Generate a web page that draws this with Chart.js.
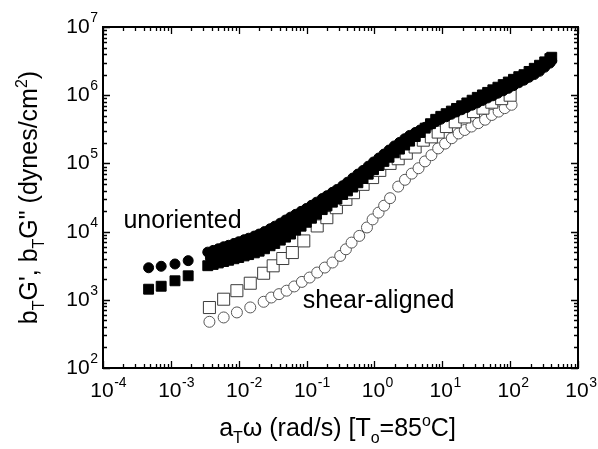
<!DOCTYPE html>
<html>
<head>
<meta charset="utf-8">
<script src="https://cdn.jsdelivr.net/npm/chart.js@4.4.1/dist/chart.umd.min.js"></script>
<style>
  html, body { margin: 0; padding: 0; background: #fff; }
  #wrap { width: 598px; height: 449px; position: relative; }
</style>
</head>
<body>
<div id="wrap"><canvas id="c"></canvas></div>
<script>
// ---- data (x = a_T*omega in rad/s, y = dynes/cm^2)
// unoriented, lowest temperature run (isolated points on the left)
const unorientedLowX   = [4.7e-4, 7.2e-4, 1.15e-3, 1.8e-3];
const unorientedLowGpp = [2950, 3100, 3350, 3750];
const unorientedLowGp  = [1430, 1580, 1900, 2250];

// unoriented, dense superposed runs (solid black band)
const unorientedX = [3.5e-3, 4.2e-3, 5.0e-3, 6.0e-3, 7.1e-3, 8.5e-3, 0.010, 0.012, 0.014, 0.017,
  0.020, 0.024, 0.029, 0.034, 0.041, 0.049, 0.058, 0.069, 0.083, 0.099,
  0.118, 0.14, 0.17, 0.20, 0.24, 0.28, 0.34, 0.40, 0.48, 0.57,
  0.68, 0.81, 0.97, 1.16, 1.38, 1.64, 1.96, 2.34, 2.79, 3.3,
  4.0, 4.7, 5.6, 6.7, 8.0, 9.5, 11.4, 13.6, 16.2, 19.3,
  23, 27.5, 32.8, 39, 46.6, 55.6, 66, 79, 94, 112,
  134, 160, 190, 227, 271, 323, 385, 410];
const unorientedGpp = [5000, 5300, 5600, 6000, 6300, 6700, 7100, 7600, 8000, 8600,
  9200, 1.0e4, 1.1e4, 1.2e4, 1.33e4, 1.48e4, 1.63e4, 1.79e4, 1.98e4, 2.18e4,
  2.43e4, 2.7e4, 3.05e4, 3.36e4, 3.76e4, 4.14e4, 4.7e4, 5.3e4, 6.1e4, 6.97e4,
  7.9e4, 9.1e4, 1.05e5, 1.2e5, 1.37e5, 1.57e5, 1.8e5, 2.03e5, 2.3e5, 2.57e5,
  2.84e5, 3.09e5, 3.39e5, 3.72e5, 4.08e5, 4.44e5, 4.83e5, 5.25e5, 5.68e5, 6.12e5,
  6.6e5, 7.14e5, 7.7e5, 8.36e5, 9.1e5, 9.8e5, 1.07e6, 1.16e6, 1.26e6, 1.38e6,
  1.52e6, 1.66e6, 1.83e6, 2.01e6, 2.24e6, 2.57e6, 2.95e6, 3.2e6];
const unorientedGp = [3160, 3300, 3470, 3640, 3800, 4000, 4170, 4400, 4600, 4880,
  5160, 5600, 6200, 6700, 7500, 8300, 9200, 1.05e4, 1.2e4, 1.37e4,
  1.57e4, 1.8e4, 2.1e4, 2.38e4, 2.7e4, 3.0e4, 3.5e4, 3.95e4, 4.5e4, 5.2e4,
  6.0e4, 6.95e4, 8.1e4, 9.3e4, 1.07e5, 1.23e5, 1.43e5, 1.62e5, 1.86e5, 2.12e5,
  2.48e5, 2.84e5, 3.29e5, 3.82e5, 4.43e5, 4.9e5, 5.36e5, 5.85e5, 6.4e5, 7.0e5,
  7.7e5, 8.45e5, 9.3e5, 1.01e6, 1.1e6, 1.2e6, 1.31e6, 1.43e6, 1.56e6, 1.71e6,
  1.87e6, 2.0e6, 2.23e6, 2.48e6, 2.75e6, 3.08e6, 3.44e6, 3.6e6];
// second unoriented run, sitting inside the band
const unorientedRun2X = [3.83e-3, 4.58e-3, 5.48e-3, 6.53e-3, 7.77e-3, 9.2e-3, 0.011, 0.013, 0.0154, 0.0184,
  0.0219, 0.0264, 0.0314, 0.0373, 0.0448, 0.0533, 0.0633, 0.0757, 0.0906, 0.108,
  0.1285, 0.154, 0.184, 0.219, 0.259, 0.309, 0.369, 0.438, 0.522, 0.622];
const unorientedRun2 = [4070, 4300, 4550, 4790, 5000, 5300, 5600, 5930, 6270, 6670,
  7190, 7870, 8600, 9480, 1.05e4, 1.16e4, 1.29e4, 1.46e4, 1.63e4, 1.84e4,
  2.08e4, 2.37e4, 2.67e4, 3.0e4, 3.36e4, 3.79e4, 4.31e4, 4.91e4, 5.62e4, 6.46e4];

// shear-aligned (open symbols)
const alignedGpX = [3.7e-3, 6.0e-3, 9.4e-3, 0.0148, 0.0233, 0.0322, 0.0446, 0.0617, 0.091, 0.1435,
  0.199, 0.275, 0.38, 0.492, 0.681, 0.94, 1.2, 1.7, 2.24, 2.95,
  3.98, 5.25, 6.9, 8.7, 11.5, 15.5, 21.4, 28.8, 39.8, 53.7, 75, 100];
const alignedGp = [770, 1020, 1360, 1750, 2450, 3150, 4030, 4930, 7300, 1.21e4,
  1.6e4, 2.24e4, 2.97e4, 3.72e4, 4.93e4, 6.2e4, 7.9e4, 1.0e5, 1.17e5, 1.41e5,
  1.74e5, 2.19e5, 2.45e5, 2.88e5, 3.47e5, 4.07e5, 4.8e5, 5.75e5, 6.46e5, 7.9e5, 8.9e5, 1.0e6];
const alignedGppX = [3.7e-3, 6.0e-3, 9.4e-3, 0.0148, 0.0233, 0.0302, 0.0392, 0.0508, 0.0658, 0.0853,
  0.111, 0.1435, 0.186, 0.241, 0.313, 0.38, 0.461, 0.598, 0.776, 0.94,
  1.15, 1.39, 1.7, 2.24, 2.82, 3.55, 4.47, 5.56, 6.92, 8.7,
  11, 13.8, 17.4, 21.4, 26.9, 33.9, 42.7, 53.7, 67.6, 83.2, 105];
const alignedGpp = [476, 551, 653, 773, 935, 1080, 1210, 1360, 1570, 1830,
  2120, 2510, 2970, 3520, 4400, 5500, 6900, 8650, 1.15e4, 1.51e4,
  1.9e4, 2.4e4, 3.09e4, 4.57e4, 5.75e4, 7.08e4, 8.5e4, 1.07e5, 1.32e5, 1.66e5,
  1.95e5, 2.34e5, 2.75e5, 3.09e5, 3.47e5, 3.89e5, 4.37e5, 5.13e5, 5.75e5, 6.46e5, 7.24e5];

// axis decades (tick labels are 10^n)
const xDecades = [-4, -3, -2, -1, 0, 1, 2, 3];
const yDecades = [2, 3, 4, 5, 6, 7];

// in-plot labels, anchored at data coordinates (left end, baseline)
const notes = [
  { text: "unoriented", x: 2.0e-4, y: 1.12e4 },
  { text: "shear-aligned", x: 0.088, y: 760 },
];

const FONT = '"Liberation Sans", Arial, Helvetica, sans-serif';
const pts = (xs, ys) => xs.map((x, i) => ({ x, y: ys[i] }));

// draws a run of normal / sub / sup text pieces starting at x
function richText(ctx, parts, x, y, big, small) {
  let cx = x;
  parts.forEach(([t, kind]) => {
    ctx.font = (kind ? small : big) + "px " + FONT;
    const dy = kind === "sub" ? 7 : kind === "sup" ? -10 : 0;
    ctx.fillText(t, cx, y + dy);
    cx += ctx.measureText(t).width;
  });
  return cx - x;
}
function richWidth(ctx, parts, big, small) {
  return parts.reduce((w, [t, kind]) => { ctx.font = (kind ? small : big) + "px " + FONT; return w + ctx.measureText(t).width; }, 0);
}

const framePlugin = {
  id: "frame",
  afterDatasetsDraw(chart) {
    const { ctx, chartArea: a, scales: { x, y } } = chart;
    ctx.save();
    ctx.fillStyle = "#000";
    ctx.strokeStyle = "#000";

    // inward ticks on all four sides
    ctx.lineWidth = 1.3;
    ctx.beginPath();
    for (let d = xDecades[0]; d <= xDecades[xDecades.length - 1]; d++) {
      for (let k = 1; k <= 9; k++) {
        const v = k * Math.pow(10, d);
        if (v > Math.pow(10, xDecades[xDecades.length - 1]) * 1.001) break;
        const px = Math.round(x.getPixelForValue(v)) + 0.5, len = k === 1 ? 7 : 4;
        ctx.moveTo(px, a.bottom); ctx.lineTo(px, a.bottom - len);
        ctx.moveTo(px, a.top); ctx.lineTo(px, a.top + len);
      }
    }
    for (let d = yDecades[0]; d <= yDecades[yDecades.length - 1]; d++) {
      for (let k = 1; k <= 9; k++) {
        const v = k * Math.pow(10, d);
        if (v > Math.pow(10, yDecades[yDecades.length - 1]) * 1.001) break;
        const py = Math.round(y.getPixelForValue(v)) + 0.5, len = k === 1 ? 7 : 4;
        ctx.moveTo(a.left, py); ctx.lineTo(a.left + len, py);
        ctx.moveTo(a.right, py); ctx.lineTo(a.right - len, py);
      }
    }
    ctx.stroke();
    ctx.lineWidth = 2;
    ctx.strokeRect(a.left, a.top, a.right - a.left, a.bottom - a.top);

    // tick labels 10^n
    ctx.textAlign = "left";
    ctx.textBaseline = "alphabetic";
    xDecades.forEach(e => {
      const px = x.getPixelForValue(Math.pow(10, e));
      ctx.font = "21px " + FONT;
      const w10 = ctx.measureText("10").width;
      const x0 = px - w10 / 2 - 1;
      ctx.fillText("10", x0, a.bottom + 29);
      ctx.font = "14px " + FONT;
      ctx.fillText(String(e), x0 + w10 + 0.5, a.bottom + 19);
    });
    yDecades.forEach(e => {
      const py = y.getPixelForValue(Math.pow(10, e));
      ctx.font = "14px " + FONT;
      const ws = ctx.measureText(String(e)).width;
      const sx = a.left - 5 - ws;
      ctx.fillText(String(e), sx, py - 5);
      ctx.font = "21px " + FONT;
      const w10 = ctx.measureText("10").width;
      ctx.fillText("10", sx - 0.5 - w10, py + 6);
    });

    // axis titles
    const xt = [["a"], ["T", "sub"], ["\u03c9 (rad/s) [T"], ["o", "sub"], ["=85"], ["o", "sup"], ["C]"]];
    const xw = richWidth(ctx, xt, 25, 16);
    richText(ctx, xt, (a.left + a.right) / 2 - 3 - xw / 2, 436, 25, 16);

    const yt = [["b"], ["T", "sub"], ["G', b"], ["T", "sub"], ["G\" (dynes/cm"], ["2", "sup"], [")"]];
    const yw = richWidth(ctx, yt, 25, 16);
    ctx.save();
    ctx.translate(37, (a.top + a.bottom) / 2);
    ctx.rotate(-Math.PI / 2);
    richText(ctx, yt, -yw / 2, 0, 25, 16);
    ctx.restore();

    // in-plot labels
    ctx.font = "25px " + FONT;
    notes.forEach(n => ctx.fillText(n.text, x.getPixelForValue(n.x), y.getPixelForValue(n.y)));
    ctx.restore();
  },
};

const filled = { backgroundColor: "#000", borderColor: "#000", borderWidth: 1 };
const open = { backgroundColor: "#fff", borderColor: "#3c3c3c", borderWidth: 1 };

new Chart(document.getElementById("c"), {
  type: "scatter",
  data: {
    datasets: [
      { label: "G'' unoriented", data: pts(unorientedLowX, unorientedLowGpp).concat(pts(unorientedX, unorientedGpp)),
        pointStyle: "circle", pointRadius: 5, ...filled },
      { label: "G'' unoriented run 2", data: pts(unorientedRun2X, unorientedRun2),
        pointStyle: "circle", pointRadius: 5, ...filled },
      { label: "G' unoriented", data: pts(unorientedLowX, unorientedLowGp).concat(pts(unorientedX, unorientedGp)),
        pointStyle: "rect", pointRadius: 7, ...filled },
      { label: "G' shear-aligned", data: pts(alignedGpX, alignedGp),
        pointStyle: "rect", pointRadius: 8.5, ...open },
      { label: "G'' shear-aligned", data: pts(alignedGppX, alignedGpp),
        pointStyle: "circle", pointRadius: 5.5, ...open, borderColor: "#555" },
    ],
  },
  options: {
    responsive: true, maintainAspectRatio: false,
    animation: false, events: [],
    layout: { padding: { top: 27, right: 20, left: 0, bottom: 0 } },
    plugins: { legend: { display: false }, tooltip: { enabled: false } },
    scales: {
      x: { type: "logarithmic", min: 1e-4, max: 1e3,
        ticks: { display: false }, grid: { display: false }, border: { display: false },
        afterFit: s => { s.height = 81; } },
      y: { type: "logarithmic", min: 1e2, max: 1e7,
        ticks: { display: false }, grid: { display: false }, border: { display: false },
        afterFit: s => { s.width = 103; } },
    },
  },
  plugins: [framePlugin],
});
</script>
</body>
</html>
